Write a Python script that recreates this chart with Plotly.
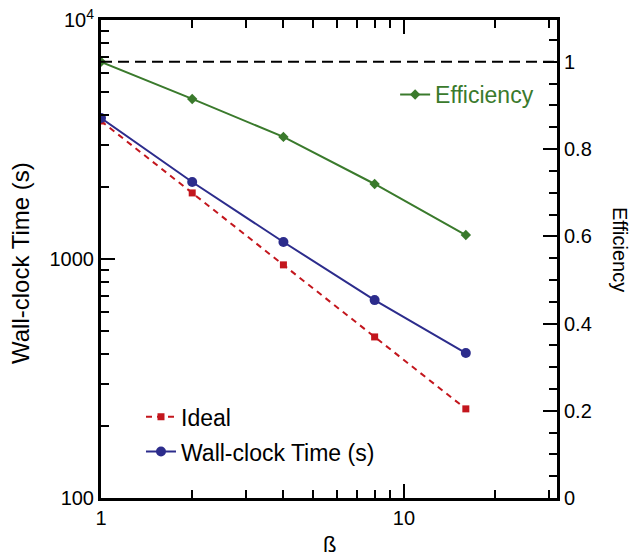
import plotly.graph_objects as go

beta = [1, 2, 4, 8, 16]
wall_clock = [3890, 2100, 1178, 673, 404]
ideal = [3780, 1890, 945, 472, 236]
efficiency = [1.0, 0.915, 0.828, 0.72, 0.603]

x_major = [1, 10]
x_minor = [2, 3, 4, 5, 6, 7, 8, 9, 20, 30]
y_major = [100, 1000, 10000]
y_major_text = ["100", "1000", "10<sup>4</sup>"]
y_minor = [200, 300, 400, 500, 600, 700, 800, 900, 2000, 3000, 4000, 5000, 6000, 7000, 8000, 9000]
y2_major = [0, 0.2, 0.4, 0.6, 0.8, 1]
y2_major_text = ["0", "0.2", "0.4", "0.6", "0.8", "1"]

GREEN = "#3a7a2c"
NAVY = "#2c2c8c"
RED = "#c3161d"
FONT = "Liberation Sans, Arial, sans-serif"

fig = go.Figure()
fig.add_trace(go.Scatter(
    x=beta, y=ideal, name="Ideal", mode="lines+markers",
    line=dict(color=RED, width=2, dash="6px,5px"),
    marker=dict(symbol="square", size=7, color=RED),
    legend="legend", legendgroup="a",
))
fig.add_trace(go.Scatter(
    x=beta, y=wall_clock, name="Wall-clock Time (s)", mode="lines+markers",
    line=dict(color=NAVY, width=2),
    marker=dict(symbol="circle", size=10, color=NAVY),
    legend="legend", legendgroup="b",
))
fig.add_trace(go.Scatter(
    x=beta, y=efficiency, name="Efficiency", mode="lines+markers", yaxis="y2",
    line=dict(color=GREEN, width=2),
    marker=dict(symbol="diamond", size=8, color=GREEN),
    legend="legend2",
))

fig.add_shape(type="line", xref="paper", x0=0, x1=1, yref="y2", y0=1, y1=1,
              line=dict(color="black", width=2, dash="11px,6px"))

tick_common = dict(ticks="inside", ticklen=14, tickwidth=2, tickcolor="black",
                   showline=True, linecolor="black", linewidth=3,
                   showgrid=False, zeroline=False, automargin=False,
                   tickfont=dict(size=20))
minor_common = dict(ticks="inside", ticklen=8, tickwidth=2, tickcolor="black", showgrid=False)

fig.update_layout(
    width=632, height=558,
    margin=dict(l=101, r=75, t=20, b=60, autoexpand=False),
    paper_bgcolor="white", plot_bgcolor="white",
    font=dict(family=FONT, color="black", size=20),
    xaxis=dict(
        type="log", range=[0, 1.505],
        tickmode="array", tickvals=x_major, ticktext=["1", "10"],
        minor=dict(tickmode="array", tickvals=x_minor, **minor_common),
        mirror="ticks", **tick_common,
    ),
    yaxis=dict(
        type="log", range=[2, 4],
        tickmode="array", tickvals=y_major, ticktext=y_major_text,
        minor=dict(tickmode="array", tickvals=y_minor, **minor_common),
        **tick_common,
    ),
    yaxis2=dict(
        overlaying="y", side="right", range=[0, 1.096],
        tickmode="array", tickvals=y2_major, ticktext=y2_major_text,
        minor=dict(dtick=0.05, **minor_common),
        **tick_common,
    ),
    legend=dict(
        x=0.0877, y=0.215, xanchor="left", yanchor="top",
        bgcolor="rgba(0,0,0,0)", font=dict(size=23),
        traceorder="grouped", tracegroupgap=2,
    ),
    legend2=dict(
        x=0.645, y=0.889, xanchor="left", yanchor="top",
        bgcolor="rgba(0,0,0,0)", font=dict(size=23, color=GREEN),
    ),
    annotations=[
        dict(text="Wall-clock Time (s)", textangle=-90, xref="paper", yref="paper",
             x=-0.175, y=0.492, xanchor="center", yanchor="middle",
             showarrow=False, font=dict(size=24)),
        dict(text="Efficiency", textangle=90, xref="paper", yref="paper",
             x=1.138, y=0.519, xanchor="center", yanchor="middle",
             showarrow=False, font=dict(size=20)),
        dict(text="ß", xref="paper", yref="paper",
             x=0.5, y=-0.098, xanchor="center", yanchor="middle",
             showarrow=False, font=dict(size=22)),
    ],
)

fig.write_html(
    "out.html",
    config={"displayModeBar": False},
    post_script="document.body.style.margin='0';document.body.style.overflow='hidden';",
)
